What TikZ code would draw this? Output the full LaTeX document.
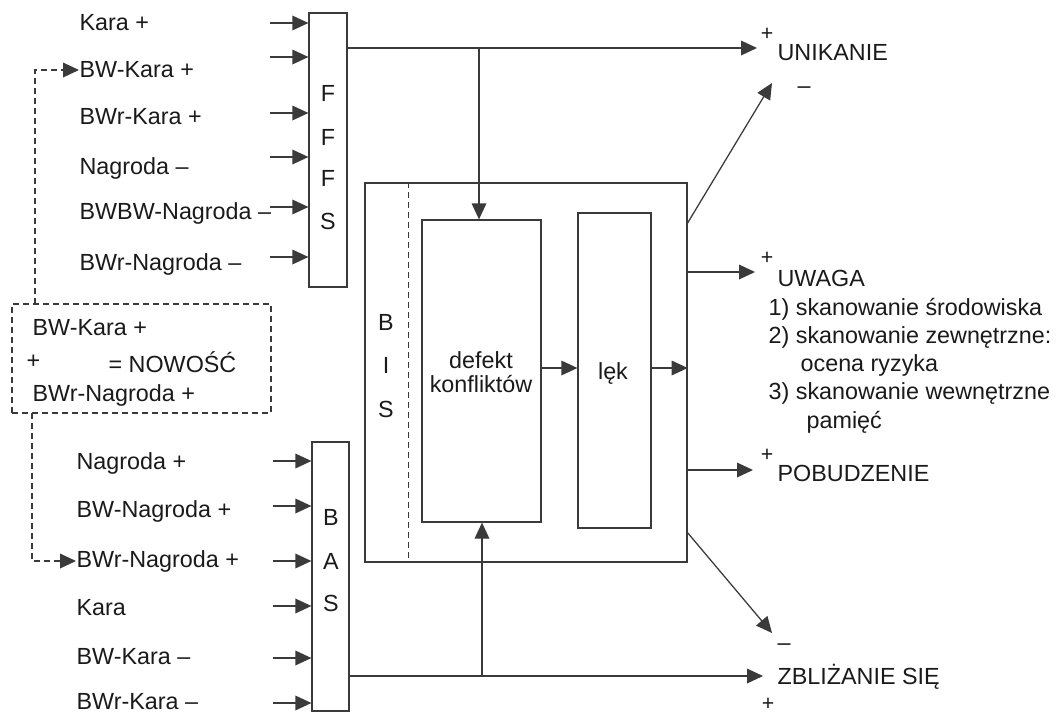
\documentclass[tikz,border=0pt]{standalone}
\usepackage{fontspec}
\setmainfont{Liberation Sans}
\usetikzlibrary{arrows.meta,fit}
\definecolor{ln}{HTML}{3A3A3A}
\definecolor{txt}{HTML}{1A1A1A}
\begin{document}
\begin{tikzpicture}[x=0.75pt,y=-0.75pt,line width=0.95pt,
  lbl/.style={anchor=west,inner sep=0pt,text=txt,font=\fontsize{17.5}{20}\selectfont},
  ctr/.style={inner sep=0pt,text=txt,font=\fontsize{17.5}{20}\selectfont},
  plusmark/.style={inner sep=0pt,text=txt,font=\fontsize{16}{18}\selectfont},
  box/.style={draw=ln,inner sep=0pt},
  arr/.style={draw=ln,-{Triangle[length=12pt,width=11pt]}},
  darr/.style={draw=ln,dash pattern=on 4.5pt off 3pt,-{Triangle[length=12pt,width=11pt]}},
  dline/.style={draw=ln,dash pattern=on 4.5pt off 3pt}]
\useasboundingbox[fill=white] (0,0) rectangle (1058,715);

% ---------- FFFS ----------
\node[box,fit={(309,13)(347,287)}] (fffs) {};
\node[ctr] (f1) at (328,93) {F};
\node[ctr] (f2) at (328,137) {F};
\node[ctr] (f3) at (328,178) {F};
\node[ctr] (f4) at (328,221) {S};

\node[lbl] (a1) at (79,23) {Kara +};
\node[lbl] (a2) at (79,70) {BW-Kara +};
\node[lbl] (a3) at (79,117) {BWr-Kara +};
\node[lbl] (a4) at (79,168) {Nagroda --};
\node[lbl] (a5) at (79,213) {BWBW-Nagroda --};
\node[lbl] (a6) at (79,264) {BWr-Nagroda --};

\foreach \n/\y in {1/23,2/57,3/113,4/157,5/207,6/257}{
  \coordinate (fi\n) at (270,\y);
  \draw[arr] (fi\n) -- (fi\n -| fffs.west);
}

% ---------- novelty box ----------
\node[draw=ln,dash pattern=on 4.5pt off 3pt,inner sep=0pt,fit={(12,304)(271,413)}] (nov) {};
\node[lbl] (n1) at (32,328) {BW-Kara +};
\node[lbl] (n2) at (26,362) {+};
\node[lbl] (n3) at (108,362) {= NOWOŚĆ};
\node[lbl] (n4) at (32,395) {BWr-Nagroda +};
\coordinate (d1) at (35,304);
\coordinate (d2) at (32,413);
\draw[darr] (d1) |- (a2.west);

% ---------- BAS ----------
\node[box,fit={(312,442)(349,711)}] (bas) {};
\node[ctr] (b1) at (331,517) {B};
\node[ctr] (b2) at (331,561) {A};
\node[ctr] (b3) at (331,603) {S};

\node[lbl] (c1) at (76,463) {Nagroda +};
\node[lbl] (c2) at (76,511) {BW-Nagroda +};
\node[lbl] (c3) at (76,561) {BWr-Nagroda +};
\node[lbl] (c4) at (76,608) {Kara};
\node[lbl] (c5) at (76,657) {BW-Kara --};
\node[lbl] (c6) at (76,702) {BWr-Kara --};
\draw[darr] (d2) |- (c3.west);

\foreach \n/\y in {1/461,2/506,3/561,4/606,5/658,6/703}{
  \coordinate (bi\n) at (273,\y);
  \draw[arr] (bi\n) -- (bi\n -| bas.west);
}

% ---------- BIS ----------
\node[box,fit={(365,183)(687,562)}] (bis) {};
\draw[dline] ([xshift=33pt]bis.north west) -- ([xshift=33pt]bis.south west);
\node[ctr] (s1) at (386,322) {B};
\node[ctr] (s2) at (386,365) {I};
\node[ctr] (s3) at (386,409) {S};

\node[box,fit={(422,220)(541,522)}] (def) {};
\node[ctr,align=center] (deft) at (481,372) {defekt\\[-2pt]konfliktów};
\node[box,fit={(578,213)(651,528)}] (lek) {};
\node[ctr] (lekt) at (613,373) {lęk};

\coordinate (m1) at (541,368);
\draw[arr] (m1) -- (m1 -| lek.west);
\coordinate (m2) at (651,368);
\draw[arr] (m2) -- (m2 -| bis.east);

% ---------- outputs ----------
\coordinate (unk) at (757,48);
\draw[arr] (fffs.east |- unk) -- (unk);
\coordinate (j1) at (479,48);
\draw[arr] (j1) -- (j1 |- def.north);

\coordinate (zbl) at (763,676);
\draw[arr] (bas.east |- zbl) -- (zbl);
\coordinate (j2) at (482,676);
\draw[arr] (j2) -- (j2 |- def.south);

\coordinate (o1) at (687,224);
\coordinate (t1) at (772,83);
\draw[arr] (o1) -- (t1);
\coordinate (o2) at (687,272);
\coordinate (t2) at (755,272);
\draw[arr] (o2) -- (t2);
\coordinate (o3) at (687,470);
\coordinate (t3) at (753,470);
\draw[arr] (o3) -- (t3);
\coordinate (o4) at (687,532);
\coordinate (t4) at (772,633);
\draw[arr] (o4) -- (t4);

% ---------- right labels ----------
\node[plusmark] (p1) at (767,34) {+};
\node[lbl] (r1) at (777,53) {UNIKANIE};
\node[lbl] (m3) at (797,90) {--};

\node[plusmark] (p2) at (767,258) {+};
\node[lbl] (r2) at (777,278) {UWAGA};
\node[lbl] (u1) at (768,309) {1) skanowanie środowiska};
\node[lbl] (u2) at (768,337) {2) skanowanie zewnętrzne:};
\node[lbl] (u3) at (800,365) {ocena ryzyka};
\node[lbl] (u4) at (768,393) {3) skanowanie wewnętrzne};
\node[lbl] (u5) at (806,422) {pamięć};

\node[plusmark] (p3) at (767,455) {+};
\node[lbl] (r3) at (777,473) {POBUDZENIE};

\node[lbl] (m4) at (777,647) {--};
\node[lbl] (r4) at (777,677) {ZBLIŻANIE SIĘ};
\node[plusmark] (p4) at (768,704) {+};
\end{tikzpicture}
\end{document}
